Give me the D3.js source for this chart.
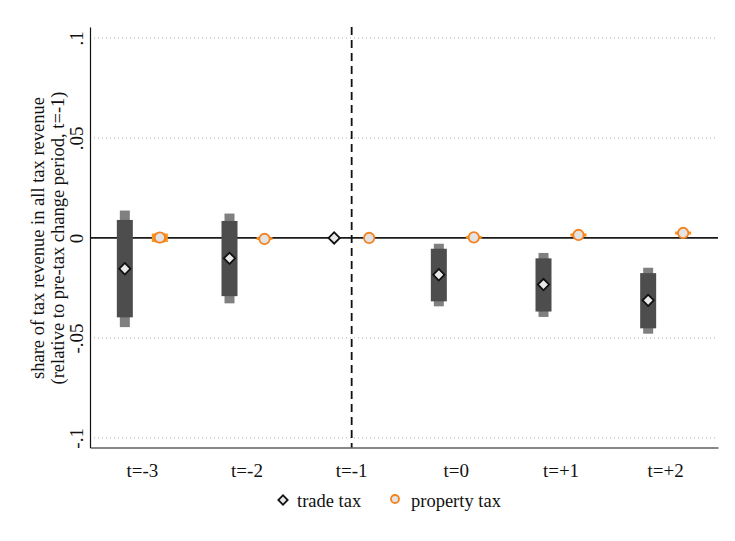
<!DOCTYPE html>
<html><head><meta charset="utf-8">
<script src="https://cdn.jsdelivr.net/npm/d3@7"></script>
<style>body{margin:0;background:#fff}svg{display:block}text{font-family:"Liberation Serif","Times New Roman",serif;fill:#111}</style>
</head><body><div id="chart"></div>
<script>
const categories = ["t=-3","t=-2","t=-1","t=0","t=+1","t=+2"];
const tradeEst   = [-0.0154,-0.0102,0,-0.0184,-0.0233,-0.0312];
const tradeLo90  = [-0.0397,-0.0291,0,-0.0317,-0.0368,-0.0452];
const tradeHi90  = [ 0.0090, 0.0085,0,-0.0054,-0.0102,-0.0176];
const tradeLo95  = [-0.0446,-0.0327,0,-0.0342,-0.0395,-0.0479];
const tradeHi95  = [ 0.0137, 0.0122,0,-0.0029,-0.0075,-0.0149];
const propEst    = [0.0002,-0.0005,0,0.0003,0.0015,0.0025];
const propLo90   = [-0.0020,-0.0010,0,-0.0004,0.0007,0.0017];
const propHi90   = [ 0.0022, 0.0004,0, 0.0010,0.0023,0.0032];
const propLo95   = [-0.0024,-0.0013,0,-0.0007,0.0004,0.0014];
const propHi95   = [ 0.0026, 0.0007,0, 0.0013,0.0026,0.0035];
const yTicks = [0.1,0.05,0,-0.05,-0.1];
const yTickLabels = [".1",".05","0","-.05","-.1"];

const W=735,H=541;
const svg=d3.select("#chart").append("svg").attr("width",W).attr("height",H);
const x=d3.scaleBand().domain(categories).range([90,718]).padding(0);
const y=d3.scaleLinear().domain([-0.1048,0.1055]).range([447.5,27]);
const cx=c=>x(c)+x.bandwidth()/2;
const off=17.5;

// gridlines
svg.append("g").selectAll("line").data(yTicks.filter(v=>v!==0)).join("line")
  .attr("x1",90).attr("x2",718).attr("y1",d=>y(d)).attr("y2",d=>y(d))
  .attr("stroke","#b0b0b0").attr("stroke-width",1).attr("stroke-dasharray","1,3");

// zero line
svg.append("line").attr("x1",90).attr("x2",718).attr("y1",y(0)).attr("y2",y(0))
  .attr("stroke","#1a1a1a").attr("stroke-width",1.7);
// dashed vertical line at t=-1
svg.append("line").attr("x1",cx("t=-1")).attr("x2",cx("t=-1")).attr("y1",27).attr("y2",447.5)
  .attr("stroke","#111").attr("stroke-width",1.8).attr("stroke-dasharray","8,5");

// axes
const yAx=d3.axisLeft(y).tickValues(yTicks).tickSize(0).tickFormat((d,i)=>yTickLabels[i]);
const gy=svg.append("g").attr("transform","translate(90,0)").call(yAx);
gy.attr("font-size",null).attr("font-family",null);
gy.select(".domain").attr("stroke","#111").attr("stroke-width",1.2);
gy.selectAll(".tick text").style("font-size","19px").style("font-family","Liberation Serif")
  .attr("transform","rotate(-90)").attr("x",0).attr("y",-7).attr("dy",0).attr("text-anchor","middle");
const xAx=d3.axisBottom(x).tickSize(0);
const gx=svg.append("g").attr("transform","translate(0,447.5)").call(xAx);
gx.attr("font-size",null).attr("font-family",null);
gx.select(".domain").attr("stroke","#111").attr("stroke-width",1.2);
gx.selectAll(".tick text").style("font-size","19px").style("font-family","Liberation Serif").attr("dy","0").attr("y",29);

// y title
const yt=svg.append("text").attr("transform","translate(44,238) rotate(-90)").attr("text-anchor","middle").style("font-size","18.5px");
yt.append("tspan").attr("x",0).attr("dy",0).text("share of tax revenue in all tax revenue");
yt.append("tspan").attr("x",0).attr("dy",20).text("(relative to pre-tax change period, t=-1)");

const idx=d3.range(categories.length);
// trade CIs
const tIdx=idx.filter(i=>tradeHi95[i]!==tradeLo95[i]);
svg.append("g").selectAll("rect").data(tIdx).join("rect")
  .attr("x",i=>cx(categories[i])-off-5).attr("width",10)
  .attr("y",i=>y(tradeHi95[i])).attr("height",i=>y(tradeLo95[i])-y(tradeHi95[i])).attr("fill","#808080");
svg.append("g").selectAll("rect").data(tIdx).join("rect")
  .attr("x",i=>cx(categories[i])-off-8).attr("width",16)
  .attr("y",i=>y(tradeHi90[i])).attr("height",i=>y(tradeLo90[i])-y(tradeHi90[i])).attr("fill","#4d4d4d");
// property CIs
const pIdx=idx.filter(i=>propHi95[i]!==propLo95[i]);
svg.append("g").selectAll("rect").data(pIdx).join("rect")
  .attr("x",i=>cx(categories[i])+off-5).attr("width",10)
  .attr("y",i=>y(propHi95[i])).attr("height",i=>y(propLo95[i])-y(propHi95[i])).attr("fill","#fbb36a");
svg.append("g").selectAll("rect").data(pIdx).join("rect")
  .attr("x",i=>cx(categories[i])+off-8).attr("width",16)
  .attr("y",i=>y(propHi90[i])).attr("height",i=>Math.max(2,y(propLo90[i])-y(propHi90[i]))).attr("fill","#f7941d");

// markers
const diamond=d3.symbol().type(d3.symbolSquare).size(64);
svg.append("g").selectAll("path").data(idx).join("path")
  .attr("d",diamond()).attr("transform",i=>`translate(${cx(categories[i])-off},${y(tradeEst[i])}) rotate(45)`)
  .attr("fill","#e8e8e8").attr("stroke","#111").attr("stroke-width",1.8);
svg.append("g").selectAll("circle").data(idx).join("circle")
  .attr("cx",i=>cx(categories[i])+off).attr("cy",i=>y(propEst[i])).attr("r",5.2)
  .attr("fill","#e3e3e3").attr("stroke","#f5821f").attr("stroke-width",1.8);

// legend
const lg=svg.append("g");
lg.append("path").attr("d",d3.symbol().type(d3.symbolSquare).size(44)()).attr("transform","translate(283,500) rotate(45)")
  .attr("fill","#e8e8e8").attr("stroke","#111").attr("stroke-width",1.8);
lg.append("text").attr("x",297).attr("y",507).style("font-size","18.5px").text("trade tax");
lg.append("circle").attr("cx",395).attr("cy",499).attr("r",4).attr("fill","#e3e3e3").attr("stroke","#f5821f").attr("stroke-width",1.8);
lg.append("text").attr("x",411).attr("y",507).style("font-size","18.5px").text("property tax");
</script></body></html>
